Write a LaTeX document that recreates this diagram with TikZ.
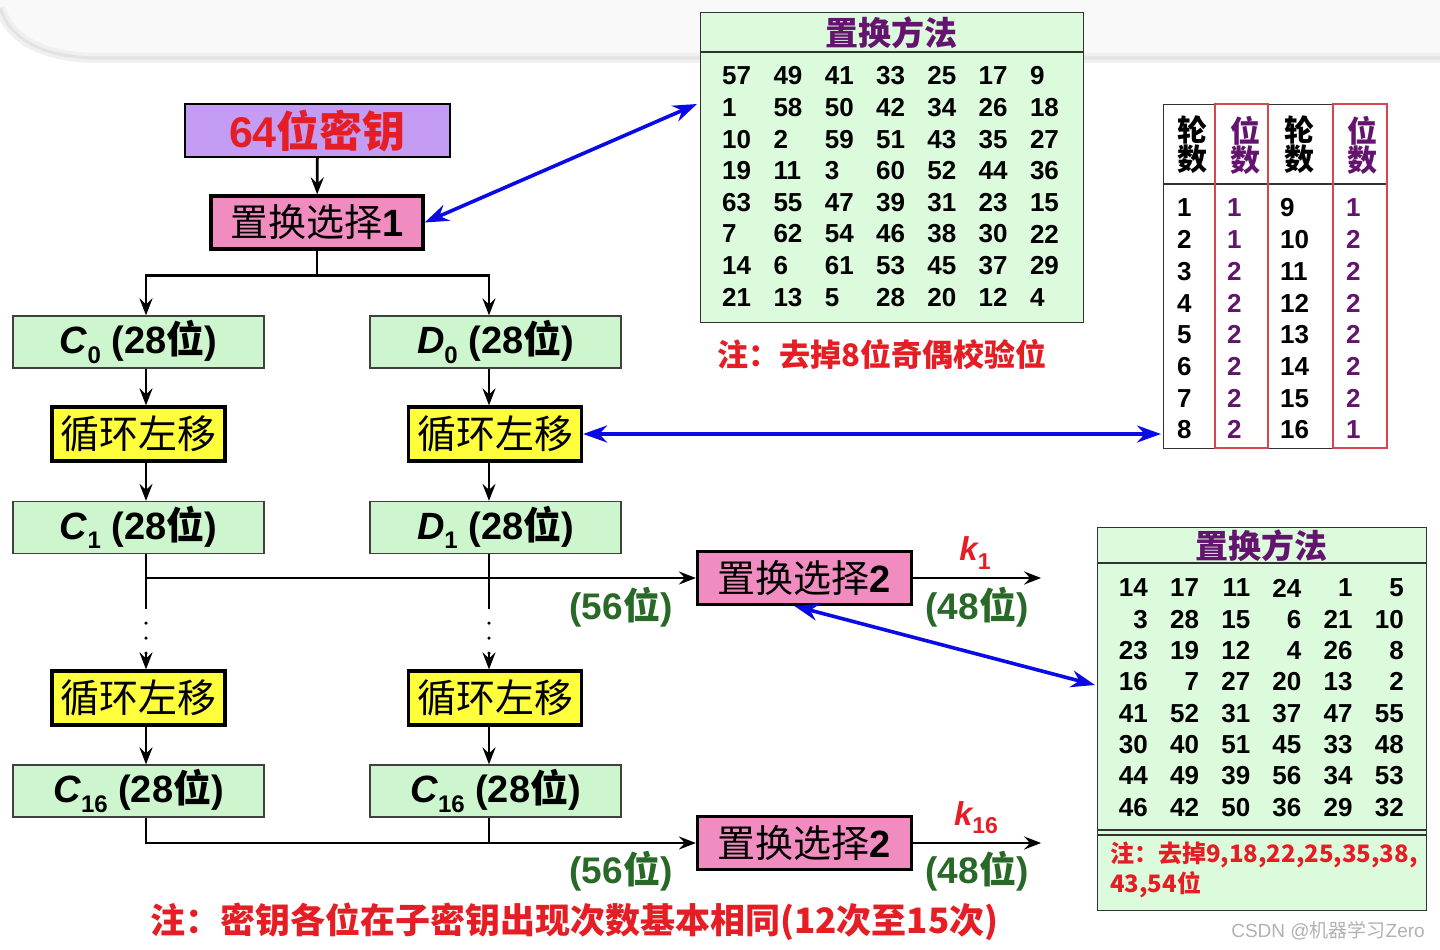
\documentclass[tikz,border=0pt]{standalone}
\usepackage{fontspec}
\setmainfont{Liberation Sans}
\newfontfamily\cjk{Noto Sans CJK SC}
\usetikzlibrary{arrows.meta,calc}
\definecolor{keyviolet}{RGB}{196,156,244}
\definecolor{pcpink}{RGB}{240,140,192}
\definecolor{boxgreen}{RGB}{206,246,206}
\definecolor{tabgreen}{RGB}{220,250,220}
\definecolor{shiftyellow}{RGB}{255,255,60}
\definecolor{linkblue}{RGB}{10,10,230}
\definecolor{notered}{RGB}{228,30,36}
\definecolor{bitgreen}{RGB}{40,105,40}
\definecolor{headpurple}{RGB}{100,20,110}
\definecolor{cellred}{RGB}{215,70,80}
\newcommand\fs[1]{\fontsize{#1}{#1}\selectfont}
\newcommand\lowsub[2]{\raisebox{-0.25em}{\fs{#1}#2}}
\begin{document}
\begin{tikzpicture}[x=1pt,y=-1pt,
  wire/.style={line width=2.8pt, draw=black},
  flow/.style={wire, -{Stealth[length=17pt,width=13pt,inset=6pt]}},
  dotwire/.style={line width=3.5pt, line cap=round, dash pattern=on 0pt off 15pt},
  link/.style={draw=linkblue, line width=3.6pt, {Stealth[length=24pt,width=17pt]}-{Stealth[length=24pt,width=17pt]}},
  keybox/.style={draw=black, line width=1.4pt, fill=keyviolet, minimum width=265pt, minimum height=53pt, inner sep=0pt, text=notered, font=\fs{43}\bfseries},
  pcbox/.style={draw=black, line width=3.2pt, fill=pcpink, minimum width=212pt, minimum height=53pt, inner sep=0pt, font=\fs{38}},
  halfbox/.style={draw=black!75, line width=1.2pt, fill=boxgreen, minimum width=251pt, minimum height=52pt, inner sep=0pt, font=\fs{38}\bfseries},
  shiftbox/.style={draw=black, line width=3.2pt, fill=shiftyellow, minimum width=173pt, minimum height=54pt, inner sep=0pt, font=\fs{39}\cjk},
  bitlab/.style={text=bitgreen, font=\fs{37}\bfseries, inner sep=0pt},
  klab/.style={text=notered, font=\fs{33}\bfseries\itshape, inner sep=0pt},
  note/.style={text=notered, font=\cjk\bfseries, inner sep=0pt, anchor=west},
  tabbox/.style={draw=black!80, line width=1.4pt, fill=tabgreen, inner sep=0pt, anchor=north west},
  tabhead/.style={text=headpurple, font=\fs{33}\bfseries\cjk, inner sep=0pt},
  tnum/.style={font=\fs{26}\bfseries, inner sep=0pt}
]
\useasboundingbox (0,0) rectangle (1440,950);
\fill[white] (0,0) rectangle (1440,950);
% slide shadow at top
\fill[gray!5] (0,0) -- (1440,0) -- (1440,55) -- (100,55) .. controls (40,55) and (10,35) .. (0,8) -- cycle;
\draw[gray!12, line width=10pt] (0,8) .. controls (10,38) and (40,58) .. (100,58) -- (1440,58);
\draw[gray!22, line width=3pt] (0,8) .. controls (10,38) and (40,58) .. (100,58) -- (1440,58);

\coordinate (colL) at (146,0);
\coordinate (colR) at (489,0);

% main flow
\node[keybox] (key) at (317.5,130.5) {64{\cjk 位密钥}};
\node[pcbox] (ps1) at (317,222.5) {{\cjk 置换选择}\textbf{1}};
\node[halfbox] (c0) at (138.5,342) {\textit{C}\lowsub{24}{0} (28{\cjk 位})};
\node[halfbox] (d0) at (495.5,342) {\textit{D}\lowsub{24}{0} (28{\cjk 位})};
\node[shiftbox] (sh0l) at (138.5,434) {循环左移};
\node[shiftbox] (sh0r) at (495,434) {循环左移};
\node[halfbox] (c1) at (138.5,527.5) {\textit{C}\lowsub{24}{1} (28{\cjk 位})};
\node[halfbox] (d1) at (495.5,527.5) {\textit{D}\lowsub{24}{1} (28{\cjk 位})};
\node[shiftbox] (sh15l) at (138.5,698) {循环左移};
\node[shiftbox] (sh15r) at (495,698) {循环左移};
\node[halfbox] (c16) at (138.5,791) {\textit{C}\lowsub{24}{16} (28{\cjk 位})};
\node[halfbox] (d16) at (495.5,791) {\textit{C}\lowsub{24}{16} (28{\cjk 位})};
\node[pcbox, minimum width=214pt] (ps2a) at (804.5,578) {{\cjk 置换选择}\textbf{2}};
\node[pcbox, minimum width=214pt] (ps2b) at (804.5,843) {{\cjk 置换选择}\textbf{2}};

\draw[flow] (key) -- (ps1);
\draw[wire] (ps1.south) -- ++(0,25) coordinate (split);
\draw[flow] (split) -| (c0.north -| colL);
\draw[flow] (split) -| (d0.north -| colR);
\draw[flow] (c0.south -| colL) -- (sh0l.north -| colL);
\draw[flow] (d0.south -| colR) -- (sh0r.north -| colR);
\draw[flow] (sh0l.south -| colL) -- (c1.north -| colL);
\draw[flow] (sh0r.south -| colR) -- (d1.north -| colR);

\coordinate (j1) at (colL |- ps2a.west);
\coordinate (j1r) at (colR |- ps2a.west);
\draw[flow] (c1.south -| colL) -- (j1) -- (ps2a.west);
\draw[wire] (d1.south -| colR) -- (j1r);
\draw[wire] (j1) -- ++(0,31) coordinate (gl);
\draw[wire] (j1r) -- ++(0,31) coordinate (gr);
\draw[dotwire] ($(gl)+(0,14)$) -- ++(0,31) coordinate (hl);
\draw[dotwire] ($(gr)+(0,14)$) -- ++(0,31) coordinate (hr);
\draw[flow] (hl) -- (sh15l.north -| colL);
\draw[flow] (hr) -- (sh15r.north -| colR);
\draw[flow] (sh15l.south -| colL) -- (c16.north -| colL);
\draw[flow] (sh15r.south -| colR) -- (d16.north -| colR);
\draw[flow] (c16.south -| colL) |- (ps2b.west);
\draw[wire] (d16.south -| colR) -- (colR |- ps2b.west);

\draw[flow] (ps2a.east) -- ++(128,0) coordinate (k1end);
\draw[flow] (ps2b.east) -- ++(128,0) coordinate (k16end);

\node[bitlab] (b56a) at (621,607) {(56{\cjk 位})};
\node[bitlab] (b56b) at (621,871) {(56{\cjk 位})};
\node[bitlab] (b48a) at (977,607) {(48{\cjk 位})};
\node[bitlab] (b48b) at (977,871) {(48{\cjk 位})};
\node[klab] (k1) at (975,553) {k\lowsub{23}{\upshape 1}};
\node[klab] (k16) at (976,818) {k\lowsub{23}{\upshape 16}};

% table 1 : PC-1
\node[tabbox, minimum width=383pt, minimum height=310pt] (tab1) at (700,12) {};
\draw[black!80, line width=1.4pt] (700,52) -- (1083,52);
\node[tabhead] (tab1h) at (891,33) {置换方法};
\foreach \row [count=\r] in {{57,49,41,33,25,17,9},{1,58,50,42,34,26,18},{10,2,59,51,43,35,27},{19,11,3,60,52,44,36},{63,55,47,39,31,23,15},{7,62,54,46,38,30,22},{14,6,61,53,45,37,29},{21,13,5,28,20,12,4}}{
  \foreach \v [count=\c] in \row {
    \node[tnum, anchor=west] (ta-\r-\c) at ({722+51.3*(\c-1)},{76+31.6*(\r-1)}) {\v};
  }
}
\node[note, font=\cjk\bfseries\fs{31}] (n1) at (717,354) {注：去掉8位奇偶校验位};

% shift table
\node[tabbox, fill=white, minimum width=224pt, minimum height=344pt] (rt) at (1163,104) {};
\draw[black!80, line width=1.4pt] (1163,184) -- (1387,184);
\draw[cellred, line width=1.4pt] (1215,104) rectangle (1268,448);
\draw[cellred, line width=1.4pt] (1333,104) rectangle (1387,448);
\node[align=center, font=\cjk\fs{30}\bfseries, inner sep=0pt] (rh1) at (1192,145) {轮\\[-1pt]数};
\node[align=center, font=\cjk\fs{30}\bfseries, inner sep=0pt, text=headpurple] (rh2) at (1245,145) {位\\[-1pt]数};
\node[align=center, font=\cjk\fs{30}\bfseries, inner sep=0pt] (rh3) at (1299,145) {轮\\[-1pt]数};
\node[align=center, font=\cjk\fs{30}\bfseries, inner sep=0pt, text=headpurple] (rh4) at (1362,145) {位\\[-1pt]数};
\foreach \a/\b/\cc/\d [count=\r] in {1/1/9/1,2/1/10/2,3/2/11/2,4/2/12/2,5/2/13/2,6/2/14/2,7/2/15/2,8/2/16/1}{
  \node[tnum, anchor=west] (rs-\r-1) at (1177,{208+31.7*(\r-1)}) {\a};
  \node[tnum, anchor=west, text=headpurple] (rs-\r-2) at (1227,{208+31.7*(\r-1)}) {\b};
  \node[tnum, anchor=west] (rs-\r-3) at (1280,{208+31.7*(\r-1)}) {\cc};
  \node[tnum, anchor=west, text=headpurple] (rs-\r-4) at (1346,{208+31.7*(\r-1)}) {\d};
}

% table 2 : PC-2
\node[tabbox, minimum width=329pt, minimum height=383pt] (tab2) at (1097,527) {};
\draw[black!80, line width=1.4pt] (1097,563) -- (1426,563);
\draw[black!80, line width=1.2pt] (1097,830) -- (1426,830);
\draw[black!80, line width=1.2pt] (1097,835) -- (1426,835);
\node[tabhead] (tab2h) at (1261,546) {置换方法};
\foreach \row [count=\r] in {{14,17,11,24,1,5},{3,28,15,6,21,10},{23,19,12,4,26,8},{16,7,27,20,13,2},{41,52,31,37,47,55},{30,40,51,45,33,48},{44,49,39,56,34,53},{46,42,50,36,29,32}}{
  \foreach \v [count=\c] in \row {
    \node[tnum, anchor=east] (tb-\r-\c) at ({1148+51.2*(\c-1)},{588+31.3*(\r-1)}) {\v};
  }
}
\node[note, font=\cjk\bfseries\fs{24}] (n2a) at (1110,855) {注：去掉9,18,22,25,35,38,};
\node[note, font=\cjk\bfseries\fs{24}] (n2b) at (1110,885) {43,54位};

% blue links
\coordinate (t1tip) at (697,104);
\coordinate (t2tip) at (1095,685);
\draw[link] (ps1.east) -- (t1tip);
\draw[link] (sh0r.east) -- ($(sh0r.east -| rt.west)+(-2,0)$);
\draw[link] ($(ps2a.south)+(-10,0)$) -- (t2tip);

% bottom note
\node[note, font=\cjk\bfseries\fs{35}] (n3) at (150,922) {注：密钥各位在子密钥出现次数基本相同(12次至15次)};
\node[anchor=east, text=gray!60, font=\fs{19}, inner sep=0pt] (wm) at (1425,931) {CSDN @{\cjk 机器学习}Zero};
\end{tikzpicture}
\end{document}
